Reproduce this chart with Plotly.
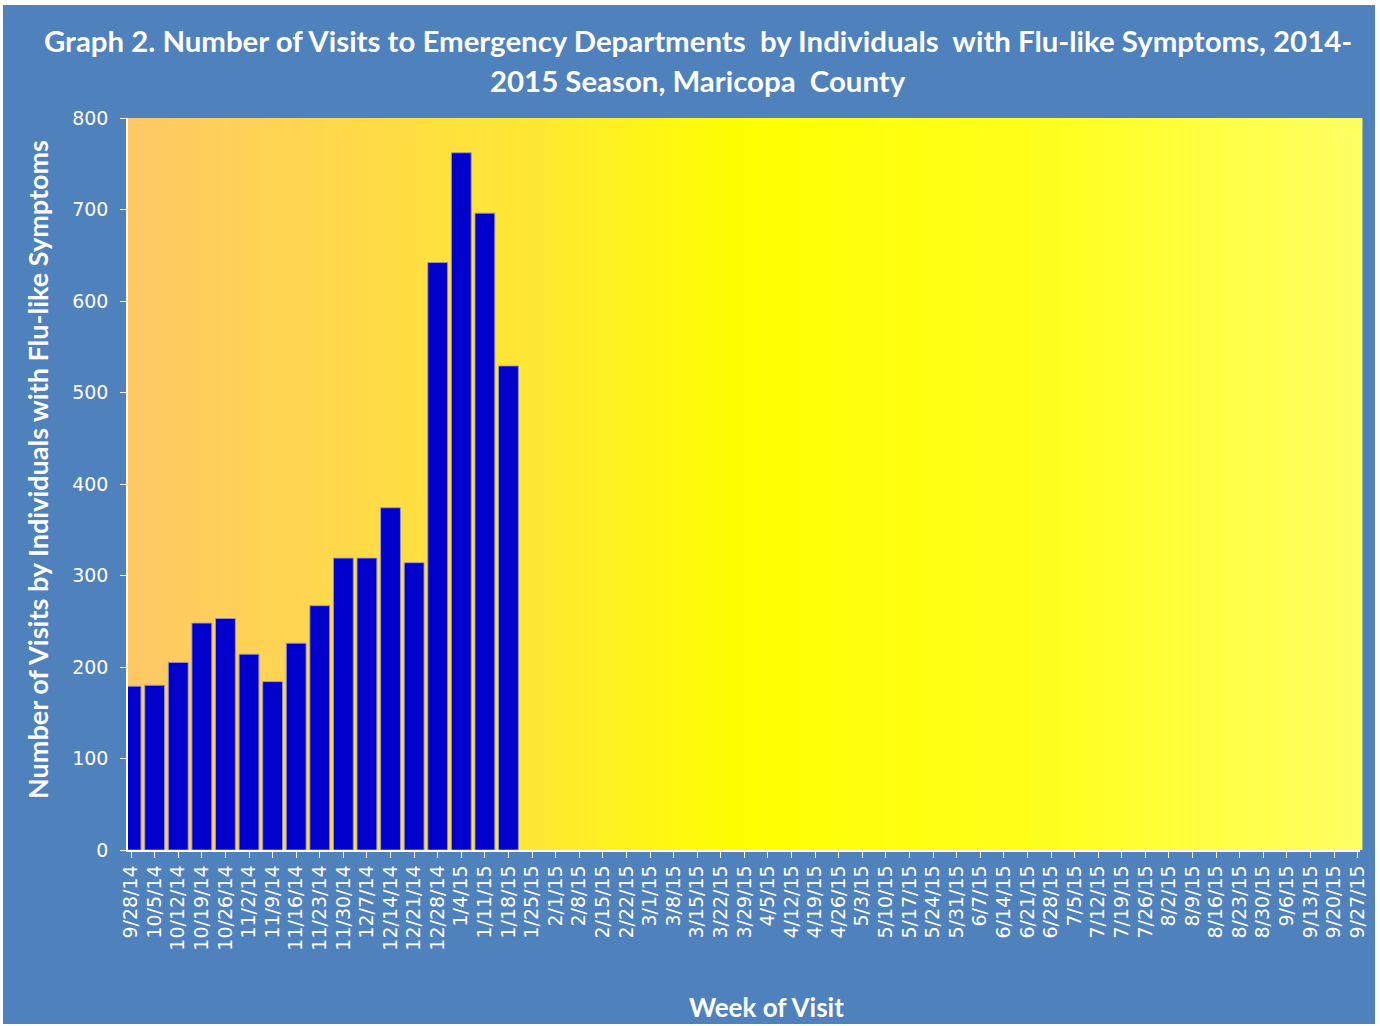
import plotly.graph_objects as go

weeks = ["9/28/14", "10/5/14", "10/12/14", "10/19/14", "10/26/14", "11/2/14", "11/9/14",
         "11/16/14", "11/23/14", "11/30/14", "12/7/14", "12/14/14", "12/21/14", "12/28/14",
         "1/4/15", "1/11/15", "1/18/15", "1/25/15", "2/1/15", "2/8/15", "2/15/15", "2/22/15",
         "3/1/15", "3/8/15", "3/15/15", "3/22/15", "3/29/15", "4/5/15", "4/12/15", "4/19/15",
         "4/26/15", "5/3/15", "5/10/15", "5/17/15", "5/24/15", "5/31/15", "6/7/15", "6/14/15",
         "6/21/15", "6/28/15", "7/5/15", "7/12/15", "7/19/15", "7/26/15", "8/2/15", "8/9/15",
         "8/16/15", "8/23/15", "8/30/15", "9/6/15", "9/13/15", "9/20/15", "9/27/15"]

visits_reported = [179, 180, 205, 248, 253, 214, 184, 226, 267, 319, 319, 374, 314,
                   642, 762, 696, 529]
visits = visits_reported + [None] * (len(weeks) - len(visits_reported))

y_ticks = [0, 100, 200, 300, 400, 500, 600, 700, 800]

title_lines = ["Graph 2. Number of Visits to Emergency Departments  by Individuals  with Flu-like Symptoms, 2014-",
               "2015 Season, Maricopa  County"]
x_title = "Week of Visit"
y_title = "Number of Visits by Individuals with Flu-like Symptoms"

BLUE_BG = "#4F81BD"
BOLD_FONT = "Lato, Open Sans, sans-serif"
TICK_FONT = "DejaVu Sans, sans-serif"

W, H = 1380, 1026
ML, MR, MT, MB = 128, 20, 118, 176
pw = W - ML - MR
ph = H - MT - MB


def px_x(px):
    return (px - ML) / pw


def px_y(py):
    return (MT + ph - py) / ph


fig = go.Figure()
fig.add_trace(go.Bar(
    x=weeks, y=visits,
    marker=dict(color="#0000CC", line=dict(color="rgba(150,150,210,0.9)", width=1)),
    width=0.84,
    hoverinfo="x+y",
))

# background gradient strips (orange -> yellow -> light yellow)
stops = [(0.0, (255, 200, 102)), (0.33, (255, 232, 50)), (0.5, (255, 255, 0)),
         (0.75, (255, 255, 30)), (1.0, (255, 255, 100))]


def interp(t):
    for (t0, c0), (t1, c1) in zip(stops[:-1], stops[1:]):
        if t0 <= t <= t1:
            f = (t - t0) / (t1 - t0) if t1 > t0 else 0
            return tuple(round(a + (b - a) * f) for a, b in zip(c0, c1))
    return stops[-1][1]


shapes = []
shapes.append(dict(type="rect", xref="paper", yref="paper",
                   x0=px_x(3), x1=px_x(1375), y0=px_y(1024), y1=px_y(5),
                   fillcolor=BLUE_BG, line=dict(width=0), layer="below"))
n = 120
for i in range(n):
    t = (i + 0.5) / n
    r, g, b = interp(t)
    shapes.append(dict(type="rect", xref="x domain", yref="y domain",
                       x0=i / n, x1=(i + 1) / n + 0.002, y0=0, y1=1,
                       fillcolor=f"rgb({r},{g},{b})", line=dict(width=0), layer="below"))

bold = dict(family=BOLD_FONT, color="white", weight="bold")
annotations = [
    dict(text=title_lines[0], xref="paper", yref="paper", x=px_x(698), y=px_y(40),
         xanchor="center", yanchor="middle", showarrow=False, font=dict(bold, size=29.4)),
    dict(text=title_lines[1], xref="paper", yref="paper", x=px_x(698), y=px_y(80),
         xanchor="center", yanchor="middle", showarrow=False, font=dict(bold, size=29.4)),
    dict(text=x_title, xref="paper", yref="paper", x=px_x(766), y=px_y(1007),
         xanchor="center", yanchor="middle", showarrow=False, font=dict(bold, size=26)),
    dict(text=y_title, xref="paper", yref="paper", x=px_x(37), y=px_y(470),
         xanchor="center", yanchor="middle", showarrow=False, textangle=-90,
         font=dict(bold, size=27)),
]

fig.update_layout(
    width=W, height=H,
    margin=dict(l=ML, r=MR, t=MT, b=MB),
    paper_bgcolor="white",
    plot_bgcolor="rgba(0,0,0,0)",
    shapes=shapes,
    annotations=annotations,
    showlegend=False,
    xaxis=dict(
        type="category",
        range=[-0.13, 52.1],
        tickmode="array", tickvals=weeks, ticktext=weeks,
        showgrid=False, zeroline=False,
        showline=True, linecolor="white", linewidth=1.5,
        ticks="outside", tickcolor="white", ticklen=6, tickwidth=1,
        tickangle=-90,
        tickfont=dict(family=TICK_FONT, size=19, color="white"),
    ),
    yaxis=dict(
        range=[0, 800],
        tickvals=y_ticks,
        showgrid=False, zeroline=False,
        showline=True, linecolor="white", linewidth=1.5,
        ticks="outside", tickcolor="white", ticklen=6, tickwidth=1,
        ticklabelstandoff=8,
        tickfont=dict(family=TICK_FONT, size=19, color="white"),
    ),
)

fig.write_html("out.html", config={"displayModeBar": False},
               post_script="document.body.style.margin='0';")
